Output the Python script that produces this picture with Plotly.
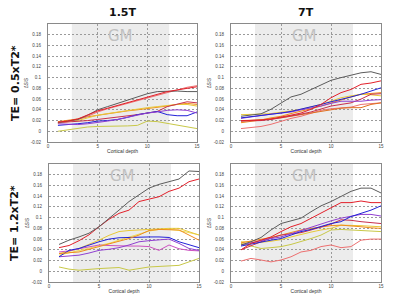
import plotly.graph_objects as go

depth = list(range(1, 16))

COL_TITLES = ["1.5T", "7T"]
ROW_TITLES = ["TE= 0.5xT2*", "TE= 1.2xT2*"]
GM_START, GM_END = 2.4, 12.2
Y_TICKS = [-0.02, 0, 0.02, 0.04, 0.06, 0.08, 0.1, 0.12, 0.14, 0.16, 0.18]
Y_TICK_LABELS = ["-0.02", "0", "0.02", "0.04", "0.06", "0.08", "0.1", "0.12", "0.14", "0.16", "0.18"]
X_TICKS = [0, 5, 10, 15]

# top-left: 1.5T, TE=0.5xT2*
tl_gray = [0.016, 0.019, 0.022, 0.03, 0.04, 0.046, 0.052, 0.058, 0.064, 0.07, 0.074, 0.075, 0.075, 0.074, 0.074]
tl_red = [0.017, 0.019, 0.023, 0.03, 0.038, 0.043, 0.048, 0.054, 0.059, 0.064, 0.069, 0.074, 0.077, 0.08, 0.083]
tl_salmon = [0.015, 0.018, 0.022, 0.028, 0.036, 0.042, 0.047, 0.052, 0.057, 0.063, 0.068, 0.072, 0.078, 0.082, 0.085]
tl_gold = [0.016, 0.018, 0.02, 0.025, 0.03, 0.033, 0.036, 0.039, 0.042, 0.044, 0.046, 0.048, 0.05, 0.05, 0.047]
tl_crimson = [0.016, 0.017, 0.018, 0.02, 0.022, 0.024, 0.026, 0.028, 0.031, 0.034, 0.037, 0.046, 0.05, 0.055, 0.053]
tl_purple = [0.014, 0.013, 0.0125, 0.014, 0.016, 0.019, 0.022, 0.026, 0.031, 0.034, 0.036, 0.039, 0.04, 0.039, 0.034]
tl_blue = [0.011, 0.012, 0.014, 0.016, 0.019, 0.02, 0.022, 0.026, 0.031, 0.034, 0.037, 0.031, 0.029, 0.029, 0.036]
tl_olive = [0.0, 0.003, 0.006, 0.008, 0.009, 0.009, 0.01, 0.01, 0.011, 0.019, 0.018, 0.015, 0.012, 0.008, 0.005]
tl_orange = [0.018, 0.02, 0.023, 0.027, 0.03, 0.033, 0.036, 0.038, 0.04, 0.042, 0.044, 0.047, 0.05, 0.052, 0.05]

# top-right: 7T, TE=0.5xT2*
tr_gray = [0.028, 0.030, 0.0325, 0.041, 0.053, 0.064, 0.069, 0.078, 0.0875, 0.095, 0.1, 0.105, 0.109, 0.111, 0.106]
tr_red = [0.02, 0.02, 0.021, 0.023, 0.026, 0.03, 0.034, 0.041, 0.05, 0.0625, 0.072, 0.078, 0.0875, 0.09, 0.094]
tr_blue = [0.025, 0.027, 0.03, 0.032, 0.034, 0.037, 0.041, 0.045, 0.05, 0.055, 0.059, 0.064, 0.069, 0.075, 0.081]
tr_purple = [0.024, 0.027, 0.029, 0.032, 0.034, 0.036, 0.04, 0.043, 0.047, 0.052, 0.056, 0.056, 0.056, 0.058, 0.059]
tr_orange = [0.016, 0.018, 0.021, 0.025, 0.028, 0.033, 0.037, 0.042, 0.047, 0.053, 0.058, 0.064, 0.069, 0.071, 0.072]
tr_gold = [0.031, 0.031, 0.032, 0.033, 0.035, 0.038, 0.041, 0.045, 0.05, 0.056, 0.0625, 0.066, 0.069, 0.068, 0.066]
tr_crimson = [0.019, 0.019, 0.02, 0.022, 0.025, 0.028, 0.032, 0.036, 0.041, 0.047, 0.05, 0.053, 0.06, 0.069, 0.07]
tr_salmon = [0.005, 0.007, 0.009, 0.013, 0.019, 0.024, 0.028, 0.033, 0.039, 0.042, 0.044, 0.045, 0.05, 0.052, 0.053]
tr_dorange = [0.019, 0.02, 0.021, 0.023, 0.025, 0.028, 0.031, 0.034, 0.038, 0.041, 0.043, 0.044, 0.044, 0.05, 0.053]

# bottom-left: 1.5T, TE=1.2xT2*
bl_gray = [0.05, 0.058, 0.064, 0.071, 0.083, 0.098, 0.114, 0.13, 0.143, 0.155, 0.162, 0.167, 0.172, 0.187, 0.186]
bl_red = [0.044, 0.048, 0.057, 0.068, 0.083, 0.097, 0.108, 0.114, 0.13, 0.134, 0.139, 0.149, 0.155, 0.167, 0.172]
bl_gold = [0.033, 0.037, 0.0425, 0.05, 0.058, 0.067, 0.074, 0.076, 0.077, 0.079, 0.08, 0.08, 0.08, 0.074, 0.0675]
bl_orange = [0.033, 0.034, 0.036, 0.041, 0.046, 0.05, 0.055, 0.061, 0.0675, 0.076, 0.078, 0.078, 0.077, 0.0675, 0.058]
bl_blue = [0.027, 0.039, 0.0425, 0.049, 0.055, 0.06, 0.0625, 0.063, 0.064, 0.064, 0.064, 0.063, 0.055, 0.049, 0.044]
bl_purple = [0.027, 0.028, 0.03, 0.034, 0.039, 0.041, 0.044, 0.049, 0.055, 0.057, 0.058, 0.06, 0.052, 0.0425, 0.039]
bl_magenta = [0.036, 0.038, 0.042, 0.046, 0.049, 0.048, 0.047, 0.047, 0.047, 0.046, 0.039, 0.049, 0.042, 0.039, 0.038]
bl_olive = [0.008, 0.004, 0.002, 0.004, 0.005, 0.006, 0.007, 0.002, 0.005, 0.008, 0.009, 0.01, 0.011, 0.0175, 0.024]
bl_yellow = [0.03, 0.034, 0.038, 0.043, 0.048, 0.052, 0.058, 0.064, 0.07, 0.075, 0.078, 0.078, 0.076, 0.072, 0.068]

# bottom-right: 7T, TE=1.2xT2*
br_gray = [0.049, 0.055, 0.063, 0.077, 0.089, 0.094, 0.099, 0.111, 0.122, 0.13, 0.139, 0.149, 0.155, 0.155, 0.146]
br_red = [0.04, 0.052, 0.058, 0.064, 0.074, 0.083, 0.089, 0.099, 0.108, 0.1175, 0.128, 0.128, 0.131, 0.128, 0.128]
br_blue = [0.047, 0.051, 0.055, 0.058, 0.061, 0.067, 0.074, 0.078, 0.083, 0.089, 0.0925, 0.102, 0.108, 0.114, 0.122]
br_purple = [0.049, 0.053, 0.058, 0.061, 0.064, 0.07, 0.077, 0.083, 0.089, 0.094, 0.099, 0.103, 0.106, 0.106, 0.103]
br_crimson = [0.04, 0.048, 0.055, 0.062, 0.0675, 0.07, 0.072, 0.077, 0.083, 0.088, 0.096, 0.095, 0.0925, 0.091, 0.089]
br_orange = [0.053, 0.056, 0.059, 0.063, 0.0675, 0.072, 0.077, 0.08, 0.083, 0.085, 0.086, 0.085, 0.083, 0.081, 0.08]
br_gold = [0.055, 0.055, 0.054, 0.056, 0.059, 0.064, 0.069, 0.073, 0.077, 0.08, 0.086, 0.086, 0.085, 0.084, 0.083]
br_olive = [0.052, 0.047, 0.0425, 0.044, 0.046, 0.05, 0.055, 0.061, 0.0675, 0.077, 0.078, 0.077, 0.076, 0.075, 0.074]
br_salmon = [0.019, 0.024, 0.021, 0.0175, 0.021, 0.027, 0.036, 0.039, 0.046, 0.049, 0.044, 0.046, 0.058, 0.06, 0.06]

C = {
    "gray": "#5c5c5c", "red": "#e3202a", "salmon": "#ec7070", "gold": "#e8c838",
    "crimson": "#c8304c", "purple": "#9040d0", "blue": "#2222d8", "olive": "#c8c848",
    "orange": "#f08c1c", "dorange": "#e07020", "magenta": "#cc50c0", "yellow": "#eedd55",
}

panels = [
    [("olive", tl_olive), ("orange", tl_orange), ("gold", tl_gold), ("crimson", tl_crimson),
     ("blue", tl_blue), ("purple", tl_purple), ("salmon", tl_salmon), ("gray", tl_gray), ("red", tl_red)],
    [("salmon", tr_salmon), ("dorange", tr_dorange), ("orange", tr_orange), ("gold", tr_gold),
     ("crimson", tr_crimson), ("purple", tr_purple), ("blue", tr_blue), ("red", tr_red), ("gray", tr_gray)],
    [("olive", bl_olive), ("yellow", bl_yellow), ("gold", bl_gold), ("magenta", bl_magenta),
     ("purple", bl_purple), ("blue", bl_blue), ("orange", bl_orange), ("red", bl_red), ("gray", bl_gray)],
    [("salmon", br_salmon), ("olive", br_olive), ("gold", br_gold), ("orange", br_orange),
     ("crimson", br_crimson), ("purple", br_purple), ("blue", br_blue), ("red", br_red), ("gray", br_gray)],
]

W, H = 400, 299
xdoms = [[48 / W, 197 / W], [231 / W, 381 / W], [49 / W, 199 / W], [231 / W, 381 / W]]
ydoms = [[1 - 142 / H, 1 - 24 / H]] * 2 + [[1 - 282 / H, 1 - 164 / H]] * 2

fig = go.Figure()
layout = dict(
    width=W, height=H, margin=dict(l=0, r=0, t=0, b=0, autoexpand=False),
    paper_bgcolor="white", plot_bgcolor="white", showlegend=False, hovermode=False,
    font=dict(family="DejaVu Sans, Arial", color="#333"),
)
shapes, annotations = [], []
tickfont = dict(size=4.5, color="#444", family="Arial")
for i, series in enumerate(panels):
    n = i + 1
    xa = "x" if n == 1 else f"x{n}"
    ya = "y" if n == 1 else f"y{n}"
    for cname, vals in series:
        fig.add_trace(go.Scatter(x=depth, y=vals, mode="lines", xaxis=xa, yaxis=ya,
                                 line=dict(color=C[cname], width=1), hoverinfo="skip"))
    layout["xaxis" + ("" if n == 1 else str(n))] = dict(
        domain=xdoms[i], anchor=ya, range=[0, 15], tickvals=X_TICKS, automargin=False,
        showgrid=True, gridcolor="#9a9a9a", griddash="2px,2px", gridwidth=1,
        showline=True, mirror=True, linecolor="#8a8a8a", linewidth=1,
        zeroline=False, ticks="", tickfont=tickfont, ticklabelstandoff=0,
        title=dict(text="Cortical depth", font=dict(size=5, color="#333", family="Arial"), standoff=1),
    )
    layout["yaxis" + ("" if n == 1 else str(n))] = dict(
        domain=ydoms[i], anchor=xa, range=[-0.02, 0.2], tickvals=Y_TICKS, ticktext=Y_TICK_LABELS,
        automargin=False,
        showgrid=True, gridcolor="#9a9a9a", griddash="2px,2px", gridwidth=1,
        showline=True, mirror=True, linecolor="#8a8a8a", linewidth=1,
        zeroline=False, ticks="", tickfont=tickfont, ticklabelstandoff=5,
        title=dict(text="ΔS/S", font=dict(size=4.5, color="#333", family="Arial"), standoff=2),
    )
    shapes.append(dict(type="rect", xref=xa, yref=f"{ya} domain", x0=GM_START, x1=GM_END, y0=0, y1=1,
                       fillcolor="#ececec", line=dict(width=0), layer="below"))
    annotations.append(dict(text="GM", xref=xa, yref=ya, x=(GM_START + GM_END) / 2, y=0.177,
                            xanchor="center", yanchor="middle",
                            showarrow=False, font=dict(size=15, color="#c0c0c0", family="DejaVu Sans")))

for j, t in enumerate(COL_TITLES):
    annotations.append(dict(text=f"<b>{t}</b>", xref="paper", yref="paper",
                            x=sum(xdoms[j]) / 2, y=1 - 13 / H, showarrow=False,
                            xanchor="center", yanchor="middle",
                            font=dict(size=11, color="#111", family="DejaVu Sans")))
for k, t in enumerate(ROW_TITLES):
    annotations.append(dict(text=f"<b>{t}</b>", xref="paper", yref="paper",
                            x=15 / W, y=sum(ydoms[2 * k]) / 2, showarrow=False, textangle=-90,
                            xanchor="center", yanchor="middle",
                            font=dict(size=11, color="#111", family="DejaVu Sans")))

layout["shapes"] = shapes
layout["annotations"] = annotations
fig.update_layout(**layout)
fig.write_html("out.html", config={"displayModeBar": False},
               post_script="document.body.style.margin='0';")
